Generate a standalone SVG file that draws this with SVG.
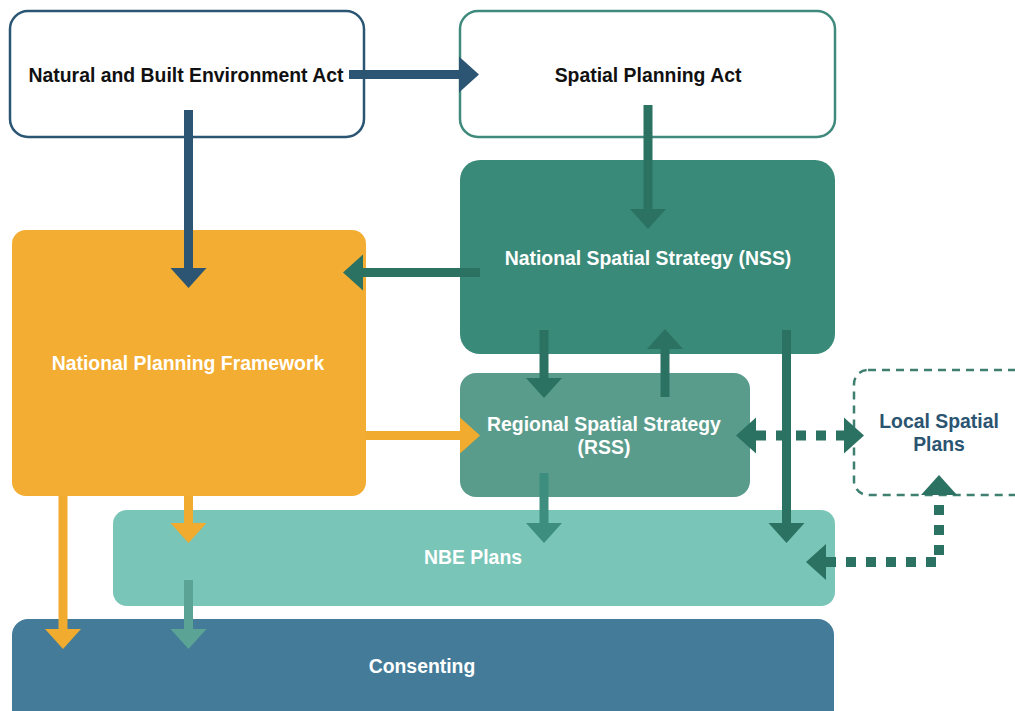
<svg xmlns="http://www.w3.org/2000/svg" width="1015" height="711" viewBox="0 0 1015 711">
  <style>
    .lbl { font-family: "Liberation Sans", Arial, sans-serif; font-weight: bold; font-size: 19.4px; text-anchor: middle; }
    .dark { fill: #111111; }
    .light { fill: #ffffff; }
    .navytxt { fill: #2b5470; }
    .shaft { fill: none; stroke-width: 9; stroke-linecap: butt; }
    .dots { fill: none; stroke-width: 10; stroke-dasharray: 10 10; stroke-linecap: butt; }
    .c-navy { stroke: #2b5572; }
    .c-teal { stroke: #2b7262; }
    .c-orange { stroke: #f1ab2f; }
    .c-mid { stroke: #3d8e7e; }
    .c-muted { stroke: #5ba395; }
  </style>
  <defs>
    <marker id="ah-navy" markerUnits="userSpaceOnUse" markerWidth="20" markerHeight="36" refX="0" refY="18" orient="auto-start-reverse" overflow="visible">
      <path d="M0,0 L20,18 L0,36 Z" fill="#2b5572"/>
    </marker>
    <marker id="ah-teal" markerUnits="userSpaceOnUse" markerWidth="20" markerHeight="36" refX="0" refY="18" orient="auto-start-reverse" overflow="visible">
      <path d="M0,0 L20,18 L0,36 Z" fill="#2b7262"/>
    </marker>
    <marker id="ah-orange" markerUnits="userSpaceOnUse" markerWidth="20" markerHeight="36" refX="0" refY="18" orient="auto-start-reverse" overflow="visible">
      <path d="M0,0 L20,18 L0,36 Z" fill="#f1ab2f"/>
    </marker>
    <marker id="ah-mid" markerUnits="userSpaceOnUse" markerWidth="20" markerHeight="36" refX="0" refY="18" orient="auto-start-reverse" overflow="visible">
      <path d="M0,0 L20,18 L0,36 Z" fill="#3d8e7e"/>
    </marker>
    <marker id="ah-muted" markerUnits="userSpaceOnUse" markerWidth="20" markerHeight="36" refX="0" refY="18" orient="auto-start-reverse" overflow="visible">
      <path d="M0,0 L20,18 L0,36 Z" fill="#5ba395"/>
    </marker>
  </defs>

  <rect width="1015" height="711" fill="#ffffff"/>

  <!-- nodes -->
  <g id="nbe-act">
    <rect x="10" y="11" width="354" height="126" rx="18" fill="#ffffff" stroke="#2b5673" stroke-width="2.5"/>
    <text class="lbl dark" x="186" y="82">Natural and Built Environment Act</text>
  </g>
  <g id="spatial-planning-act">
    <rect x="460" y="11" width="375" height="126" rx="18" fill="#ffffff" stroke="#3f8a7c" stroke-width="2.5"/>
    <text class="lbl dark" x="648" y="82">Spatial Planning Act</text>
  </g>
  <g id="nss">
    <rect x="460" y="160" width="375" height="194" rx="20" fill="#3a8a7a"/>
    <text class="lbl light" x="648" y="265">National Spatial Strategy (NSS)</text>
  </g>
  <g id="npf">
    <rect x="12" y="230" width="354" height="266" rx="14" fill="#f2ad32"/>
    <text class="lbl light" x="188" y="370">National Planning Framework</text>
  </g>
  <g id="rss">
    <rect x="460" y="373" width="290" height="124" rx="16" fill="#5a9c8c"/>
    <text class="lbl light" x="604" y="431">Regional Spatial Strategy</text>
    <text class="lbl light" x="604" y="454">(RSS)</text>
  </g>
  <g id="local-spatial-plans">
    <rect x="854" y="370" width="200" height="125" rx="14" fill="#ffffff" stroke="#3f7f70" stroke-width="2.5" stroke-dasharray="8 6"/>
    <text class="lbl navytxt" x="939" y="428">Local Spatial</text>
    <text class="lbl navytxt" x="939" y="451">Plans</text>
  </g>
  <g id="nbe-plans">
    <rect x="113" y="510" width="722" height="96" rx="14" fill="#79c5b7"/>
    <text class="lbl light" x="473" y="564">NBE Plans</text>
  </g>
  <g id="consenting">
    <rect x="12" y="619" width="822" height="110" rx="16" fill="#437b98"/>
    <text class="lbl light" x="422" y="673">Consenting</text>
  </g>

  <!-- connectors -->
  <g id="connectors">
    <!-- Acts -->
    <path class="shaft c-navy" d="M349,74.5 H459" marker-end="url(#ah-navy)"/>
    <path class="shaft c-navy" d="M188.5,110 V268" marker-end="url(#ah-navy)"/>
    <path class="shaft c-teal" d="M648,105 V209" marker-end="url(#ah-teal)"/>
    <!-- NSS outputs -->
    <path class="shaft c-teal" d="M480,272.5 H363" marker-end="url(#ah-teal)"/>
    <path class="shaft c-teal" d="M544,330 V378" marker-end="url(#ah-teal)"/>
    <path class="shaft c-teal" d="M665,397 V349" marker-end="url(#ah-teal)"/>
    <path class="shaft c-teal" d="M786.5,330 V523" marker-end="url(#ah-teal)"/>
    <!-- NPF outputs -->
    <path class="shaft c-orange" d="M366,435.5 H460" marker-end="url(#ah-orange)"/>
    <path class="shaft c-orange" d="M188.5,496 V523" marker-end="url(#ah-orange)"/>
    <path class="shaft c-orange" d="M63,496 V629" marker-end="url(#ah-orange)"/>
    <!-- RSS / NBE Plans outputs -->
    <path class="shaft c-mid" d="M544,473 V523" marker-end="url(#ah-mid)"/>
    <path class="shaft c-muted" d="M188.5,580 V629" marker-end="url(#ah-muted)"/>
    <!-- Local plans links -->
    <path class="dots c-teal" d="M756,435.5 H844" marker-start="url(#ah-teal)" marker-end="url(#ah-teal)"/>
    <path class="dots c-teal" d="M826,562 H939 V495" marker-start="url(#ah-teal)" marker-end="url(#ah-teal)"/>
  </g>
</svg>
